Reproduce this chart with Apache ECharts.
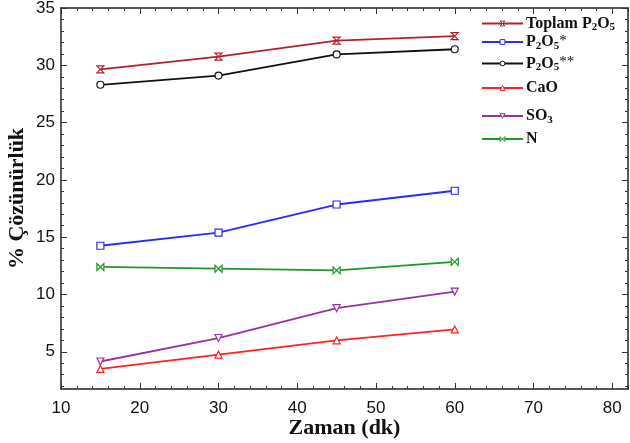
<!DOCTYPE html>
<html>
<head>
<meta charset="utf-8">
<script src="https://cdn.jsdelivr.net/npm/echarts@6/dist/echarts.min.js"></script>
<style>html,body{margin:0;padding:0;background:#fff}#c{width:630px;height:443px}</style>
</head>
<body>
<div id="c"></div>
<script>
const times = [15, 30, 45, 60];
const toplamP2O5 = [29.65, 30.75, 32.15, 32.55];
const p2o5Star = [14.25, 15.4, 17.85, 19.05];
const p2o5StarStar = [28.3, 29.1, 30.95, 31.4];
const caO = [3.5, 4.75, 6.0, 6.95];
const sO3 = [4.15, 6.2, 8.8, 10.25];
const nVals = [12.4, 12.25, 12.1, 12.85];
const xTickLabels = [10, 20, 30, 40, 50, 60, 70, 80];
const yTickLabels = [5, 10, 15, 20, 25, 30, 35];
const xMinorTicks = [10,12,14,16,18,20,22,24,26,28,30,32,34,36,38,40,42,44,46,48,50,52,54,56,58,60,62,64,66,68,70,72,74,76,78,80,82];
const yMinorTicks = [2,3,4,5,6,7,8,9,10,11,12,13,14,15,16,17,18,19,20,21,22,23,24,25,26,27,28,29,30,31,32,33,34,35];
const seriesNames = ['Toplam P2O5', 'P2O5*', 'P2O5**', 'CaO', 'SO3', 'N'];

const X_MIN = 10, X_MAX = 82, Y_MIN = 1.75, Y_MAX = 35;
const gridRect = {left: 61, right: 2, top: 8, bottom: 54, containLabel: false, outerBoundsMode: 'none'};

const chart = echarts.init(document.getElementById('c'), null, {renderer: 'canvas'});

function xAx(gridIndex, position, major, showLabels, showName) {
  return {
    type: 'value', gridIndex, position, min: X_MIN, max: X_MAX,
    name: showName ? 'Zaman (dk)' : '', nameLocation: 'middle', nameGap: 28, nameMoveOverlap: false,
    nameTextStyle: {fontFamily: 'Liberation Serif', fontWeight: 'bold', fontSize: 22, color: '#111'},
    axisLine: {show: major, lineStyle: {color: '#222', width: 1.5}},
    axisTick: {show: true, inside: true, length: major ? 6 : 3, lineStyle: {color: '#333', width: 1},
      customValues: major ? xTickLabels : xMinorTicks},
    axisLabel: {show: showLabels, customValues: xTickLabels, margin: 11,
      fontFamily: 'Liberation Sans', fontSize: 17, color: '#111'},
    splitLine: {show: false}
  };
}
function yAx(gridIndex, position, major, showLabels, showName) {
  return {
    type: 'value', gridIndex, position, min: Y_MIN, max: Y_MAX,
    name: showName ? '% Çözünürlük' : '', nameLocation: 'middle', nameGap: 33, nameMoveOverlap: false,
    nameTextStyle: {fontFamily: 'Liberation Serif', fontWeight: 'bold', fontSize: 22, color: '#111'},
    axisLine: {show: major, lineStyle: {color: '#222', width: 1.5}},
    axisTick: {show: true, inside: true, length: major ? 6 : 3, lineStyle: {color: '#333', width: 1},
      customValues: major ? yTickLabels : yMinorTicks},
    axisLabel: {show: showLabels, customValues: yTickLabels, margin: 6,
      fontFamily: 'Liberation Sans', fontSize: 17, color: '#111'},
    splitLine: {show: false}
  };
}

const colors = ['#b3202a', '#2a2aff', '#111111', '#ff2222', '#9b2fa3', '#21962a'];
const symbols = [
  'path://M0 0L10 0L0 10L10 10Z',
  'rect',
  'circle',
  'triangle',
  'path://M0 0L10 0L5 9Z',
  'path://M0 0L10 10L10 0L0 10Z'
];
const datas = [toplamP2O5, p2o5Star, p2o5StarStar, caO, sO3, nVals];

const series = seriesNames.map((name, i) => ({
  name, type: 'line', xAxisIndex: 0, yAxisIndex: 0,
  data: times.map((t, j) => [t, datas[i][j]]),
  symbol: symbols[i], symbolSize: 7,
  lineStyle: {color: colors[i], width: 1.8},
  itemStyle: {color: '#fff', borderColor: colors[i], borderWidth: 1.2},
  emphasis: {disabled: true},
  animation: false
}));

const legendFmt = {
  'Toplam P2O5': '{b|Toplam P}{s|2}{b|O}{s|5}',
  'P2O5*': '{b|P}{s|2}{b|O}{s|5}{n|*}',
  'P2O5**': '{b|P}{s|2}{b|O}{s|5}{n|**}',
  'CaO': '{b|CaO}',
  'SO3': '{b|SO}{s|3}',
  'N': '{b|N}'
};
const legendRowCenters = [23, 41.5, 63, 89, 115.5, 140];

const legends = seriesNames.map((n, i) => ({
  orient: 'vertical', left: 481, top: legendRowCenters[i] - 9, padding: 0,
  itemWidth: 41, itemHeight: 6, itemGap: 0,
  selectedMode: false,
  data: [{name: n}],
  itemStyle: {color: '#fff', borderColor: colors[i], borderWidth: 1},
  formatter: (name) => legendFmt[name],
  textStyle: {
    padding: [0, 0, 0, -2],
    rich: {
      b: {fontFamily: 'Liberation Serif', fontWeight: 'bold', fontSize: 16, color: '#111', lineHeight: 18},
      s: {fontFamily: 'Liberation Serif', fontWeight: 'bold', fontSize: 11, color: '#111', padding: [8, 0, 0, 0], lineHeight: 10},
      n: {fontFamily: 'Liberation Serif', fontSize: 15, color: '#111', padding: [0, 0, 2, 0], lineHeight: 15}
    }
  }
}));

chart.setOption({
  backgroundColor: '#fff',
  animation: false,
  grid: [Object.assign({}, gridRect), Object.assign({}, gridRect)],
  xAxis: [xAx(0, 'bottom', true, true, true), xAx(0, 'top', true, false, false),
          xAx(1, 'bottom', false, false, false), xAx(1, 'top', false, false, false)],
  yAxis: [yAx(0, 'left', true, true, true), yAx(0, 'right', true, false, false),
          yAx(1, 'left', false, false, false), yAx(1, 'right', false, false, false)],
  legend: legends,
  series
});
</script>
</body>
</html>
